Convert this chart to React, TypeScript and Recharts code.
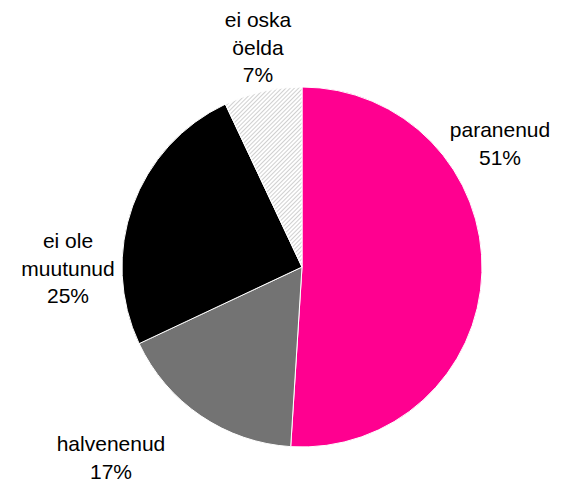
import React from 'react';
import { PieChart, Pie, Cell } from 'recharts';

const categories = ['paranenud', 'halvenenud', 'ei ole muutunud', 'ei oska öelda'];
const values = [51, 17, 25, 7];
const labelLines = [['paranenud', '51%'], ['halvenenud', '17%'], ['ei ole', 'muutunud', '25%'], ['ei oska', 'öelda', '7%']];

const fills = ['#FF0090', '#737373', '#000000', 'url(#hatch)'];
// label block offsets relative to pie centre (x centre, first baseline)
const labelLayout = [
  { dx: 198, dy: -130 },
  { dx: -191, dy: 184 },
  { dx: -234, dy: -19 },
  { dx: -44, dy: -240 },
];

const data = categories.map((name, i) => ({ name, value: values[i] }));

const renderLabel = (props: any) => {
  const { cx, cy, index } = props;
  const lay = labelLayout[index];
  const lines = labelLines[index];
  return (
    <text
      x={cx + lay.dx}
      y={cy + lay.dy}
      textAnchor="middle"
      fontFamily="'Liberation Sans', Arial, sans-serif"
      fontSize={21}
      fill="#000"
    >
      {lines.map((l, j) => (
        <tspan key={j} x={cx + lay.dx} dy={j === 0 ? 0 : 27.5}>
          {l}
        </tspan>
      ))}
    </text>
  );
};

export default function App() {
  return (
    <div style={{ position: 'absolute', left: 0, top: 0, width: 572, height: 484, background: '#fff' }}>
      <PieChart width={572} height={484} margin={{ top: 0, right: 0, bottom: 0, left: 0 }}>
        <defs>
          <pattern id="hatch" patternUnits="userSpaceOnUse" width="3" height="3" patternTransform="rotate(45)">
            <rect width="3" height="3" fill="#ffffff" />
            <line x1="0" y1="0" x2="0" y2="3" stroke="#b0b0b0" strokeWidth="1.2" />
          </pattern>
        </defs>
        <Pie
          data={data}
          dataKey="value"
          nameKey="name"
          cx={302}
          cy={267}
          outerRadius={180}
          startAngle={90}
          endAngle={-270}
          stroke="#ffffff"
          strokeWidth={1}
          label={renderLabel}
          labelLine={false}
          isAnimationActive={false}
        >
          {data.map((d, i) => (
            <Cell key={d.name} fill={fills[i]} />
          ))}
        </Pie>
      </PieChart>
    </div>
  );
}
